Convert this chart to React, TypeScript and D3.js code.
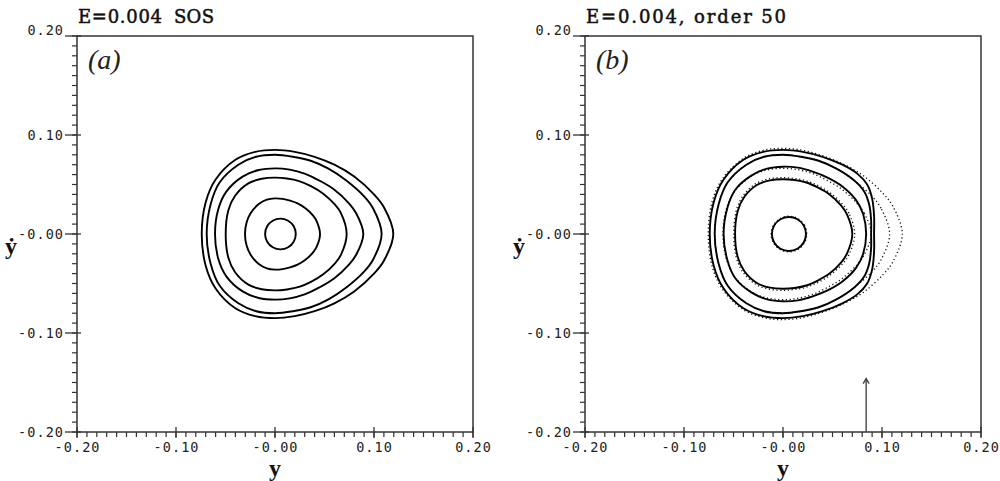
import React from 'react';
import * as d3 from 'd3';

const W = 1000;
const H = 481;

const axisDomain: [number, number] = [-0.2, 0.2];
const majorTicks = [-0.2, -0.1, 0, 0.1, 0.2];
const tickLabels = ['-0.20', '-0.10', '-0.00', '0.10', '0.20'];

type P = [number, number];

// Panel (a): SOS invariant curves  [y, ydot]
const sosC1: P[] = [[0.1195,0],[0.110,0.027],[0.100,0.040],[0.080,0.058],[0.060,0.070],[0.040,0.078],[0.020,0.083],[0,0.085],[-0.020,0.083],[-0.040,0.075],[-0.060,0.055],[-0.070,0.032],[-0.074,0],[-0.070,-0.032],[-0.060,-0.055],[-0.040,-0.075],[-0.020,-0.083],[0,-0.085],[0.020,-0.083],[0.040,-0.078],[0.060,-0.070],[0.080,-0.058],[0.100,-0.040],[0.110,-0.027]];
const sosC2: P[] = [[0.1077,0],[0.099,0.026],[0.090,0.038],[0.072,0.054],[0.054,0.066],[0.036,0.074],[0.018,0.078],[0,0.080],[-0.019,0.078],[-0.037,0.070],[-0.056,0.052],[-0.065,0.030],[-0.069,0],[-0.065,-0.030],[-0.056,-0.052],[-0.037,-0.070],[-0.019,-0.078],[0,-0.080],[0.018,-0.078],[0.036,-0.074],[0.054,-0.066],[0.072,-0.054],[0.090,-0.038],[0.099,-0.026]];
const sosC3: P[] = [[0.0892,0],[0.082,0.021],[0.0747,0.031],[0.0597,0.045],[0.0448,0.054],[0.0299,0.061],[0.0149,0.065],[0,0.0663],[-0.0164,0.0646],[-0.0327,0.058],[-0.049,0.043],[-0.0573,0.025],[-0.0606,0],[-0.0573,-0.025],[-0.049,-0.043],[-0.0327,-0.058],[-0.0164,-0.0646],[0,-0.0663],[0.0149,-0.065],[0.0299,-0.061],[0.0448,-0.054],[0.0597,-0.045],[0.0747,-0.031],[0.082,-0.021]];
const sosC4: P[] = [[0.0724,0],[0.0666,0.021],[0.0606,0.0296],[0.0484,0.041],[0.0363,0.0484],[0.0243,0.0535],[0.0121,0.056],[0,0.0569],[-0.0134,0.0558],[-0.0269,0.0512],[-0.0403,0.0387],[-0.0471,0.024],[-0.0498,0],[-0.0471,-0.024],[-0.0403,-0.0387],[-0.0269,-0.0512],[-0.0134,-0.0558],[0,-0.0569],[0.0121,-0.056],[0.0243,-0.0535],[0.0363,-0.0484],[0.0484,-0.041],[0.0606,-0.0296],[0.0666,-0.021]];
const sosC5: P[] = [[0.0455,0],[0.0419,0.0133],[0.0381,0.0191],[0.0304,0.0263],[0.0228,0.031],[0.0152,0.0338],[0.0076,0.0355],[0,0.036],[-0.0082,0.0347],[-0.0164,0.0303],[-0.0245,0.0211],[-0.0287,0.0117],[-0.0303,0],[-0.0287,-0.0117],[-0.0245,-0.0211],[-0.0164,-0.0303],[-0.0082,-0.0347],[0,-0.036],[0.0076,-0.0355],[0.0152,-0.0338],[0.0228,-0.031],[0.0304,-0.0263],[0.0381,-0.0191],[0.0419,-0.0133]];
const sosC6: P[] = [[0.021,0],[0.0189,0.0078],[0.0133,0.0134],[0.0055,0.0155],[-0.0023,0.0134],[-0.0079,0.0078],[-0.010,0],[-0.0079,-0.0078],[-0.0023,-0.0134],[0.0055,-0.0155],[0.0133,-0.0134],[0.0189,-0.0078]];

// Panel (b): SOS points (dotted) and order-50 curves (solid)
const sosOuterB: P[] = [[0.1205,0],[0.111,0.028],[0.101,0.041],[0.081,0.059],[0.060,0.071],[0.040,0.079],[0.020,0.0845],[0,0.0865],[-0.020,0.0845],[-0.040,0.0765],[-0.061,0.056],[-0.0715,0.033],[-0.0755,0],[-0.0715,-0.033],[-0.061,-0.056],[-0.040,-0.0765],[-0.020,-0.0845],[0,-0.0865],[0.020,-0.0845],[0.040,-0.079],[0.060,-0.071],[0.081,-0.059],[0.101,-0.041],[0.111,-0.028]];
const sosCircleB: P[] = [[0.024,0],[0.0216,0.009],[0.015,0.0156],[0.006,0.018],[-0.003,0.0156],[-0.0096,0.009],[-0.012,0],[-0.0096,-0.009],[-0.003,-0.0156],[0.006,-0.018],[0.015,-0.0156],[0.0216,-0.009]];
const ordB1: P[] = [[0.092,0],[0.092,0.018],[0.090,0.036],[0.085,0.050],[0.075,0.061],[0.060,0.070],[0.040,0.078],[0.020,0.083],[0,0.085],[-0.020,0.083],[-0.040,0.075],[-0.060,0.055],[-0.070,0.032],[-0.074,0],[-0.070,-0.032],[-0.060,-0.055],[-0.040,-0.075],[-0.020,-0.083],[0,-0.085],[0.020,-0.083],[0.040,-0.078],[0.060,-0.070],[0.075,-0.061],[0.085,-0.050],[0.090,-0.036],[0.092,-0.018]];
const ordB2: P[] = [[0.089,0],[0.089,0.014],[0.087,0.030],[0.082,0.043],[0.072,0.054],[0.054,0.066],[0.036,0.074],[0.018,0.078],[0,0.080],[-0.019,0.078],[-0.037,0.070],[-0.056,0.052],[-0.065,0.030],[-0.069,0],[-0.065,-0.030],[-0.056,-0.052],[-0.037,-0.070],[-0.019,-0.078],[0,-0.080],[0.018,-0.078],[0.036,-0.074],[0.054,-0.066],[0.072,-0.054],[0.082,-0.043],[0.087,-0.030],[0.089,-0.014]];
const ordB3: P[] = [[0.084,0],[0.081,0.020],[0.074,0.034],[0.060,0.048],[0.045,0.057],[0.030,0.063],[0.015,0.067],[0,0.068],[-0.016,0.066],[-0.032,0.059],[-0.048,0.045],[-0.056,0.027],[-0.060,0],[-0.056,-0.027],[-0.048,-0.045],[-0.032,-0.059],[-0.016,-0.066],[0,-0.068],[0.015,-0.067],[0.030,-0.063],[0.045,-0.057],[0.060,-0.048],[0.074,-0.034],[0.081,-0.020]];
const ordB4: P[] = [[0.070,0],[0.0645,0.020],[0.0588,0.0287],[0.047,0.040],[0.035,0.047],[0.0236,0.052],[0.0117,0.0545],[0,0.0553],[-0.013,0.0542],[-0.026,0.0497],[-0.039,0.0376],[-0.0457,0.0233],[-0.0484,0],[-0.0457,-0.0233],[-0.039,-0.0376],[-0.026,-0.0497],[-0.013,-0.0542],[0,-0.0553],[0.0117,-0.0545],[0.0236,-0.052],[0.035,-0.047],[0.047,-0.040],[0.0588,-0.0287],[0.0645,-0.020]];
const ordCircleB: P[] = [[0.0232,0],[0.0209,0.0086],[0.0146,0.0149],[0.006,0.0172],[-0.0026,0.0149],[-0.0089,0.0086],[-0.0112,0],[-0.0089,-0.0086],[-0.0026,-0.0149],[0.006,-0.0172],[0.0146,-0.0149],[0.0209,-0.0086]];

const panelASolid = [sosC1, sosC2, sosC3, sosC4, sosC5, sosC6];
const panelBDotted = [sosOuterB, sosC2, sosC3, sosC4, sosCircleB];
const panelBSolid = [ordB1, ordB2, ordB3, ordB4, ordCircleB];

const arrowY = 0.084;
const arrowTip = -0.146;

const titleA = ['E=0.004', 'SOS'];
const titleB = 'E=0.004, order 50';

const TOP = 36;
const BOTTOM = 432;
const PLOT_W = 396;

const monoFont = '"DejaVu Sans Mono", monospace';
const serifFont = '"Liberation Serif", "DejaVu Serif", serif';
const titleFont = '"DejaVu Serif", "Liberation Serif", serif';

function TickText(props: { x: number; y: number; anchor: 'middle' | 'end'; text: string }) {
  const len = props.text.length * 9.4 - 2;
  return (
    <text x={props.x} y={props.y} textAnchor={props.anchor} dominantBaseline="central"
      fontFamily={monoFont} fontSize={13.5} textLength={len} lengthAdjust="spacing" fill="#222">{props.text}</text>
  );
}

function Panel({ left, title, label, solid, dotted, arrow }: {
  left: number; title: React.ReactNode; label: string; solid: P[][]; dotted: P[][]; arrow?: boolean;
}) {
  const x = d3.scaleLinear().domain(axisDomain).range([left, left + PLOT_W]);
  const y = d3.scaleLinear().domain(axisDomain).range([BOTTOM, TOP]);
  const line = d3.line<P>().x(d => x(d[0])).y(d => y(d[1])).curve(d3.curveCatmullRomClosed.alpha(0.5));
  const minor = x.ticks(40);
  const axisColor = '#333';
  return (
    <g>
      {title}
      <text x={left + 11} y={69} fontFamily={serifFont} fontStyle="italic" fontSize={28} fill="#222">{label}</text>
      <rect x={left} y={TOP} width={PLOT_W} height={BOTTOM - TOP} fill="none" stroke={axisColor} strokeWidth={1.5} />
      {minor.map((t, i) => (
        <g key={'m' + i}>
          <line x1={x(t)} x2={x(t)} y1={BOTTOM} y2={BOTTOM + 5} stroke={axisColor} strokeWidth={1.2} />
          <line x1={left} x2={left - 5} y1={y(t)} y2={y(t)} stroke={axisColor} strokeWidth={1.2} />
        </g>
      ))}
      {majorTicks.map((t, i) => (
        <g key={'M' + i}>
          <line x1={x(t)} x2={x(t)} y1={BOTTOM - 5} y2={BOTTOM + 6} stroke={axisColor} strokeWidth={1.3} />
          <line x1={left + 4} x2={left - 12} y1={y(t)} y2={y(t)} stroke={axisColor} strokeWidth={1.3} />
          <TickText x={x(t)} y={BOTTOM + 15} anchor="middle" text={tickLabels[i]} />
          <TickText x={left - 14} y={y(t) + (i === majorTicks.length - 1 ? -6 : 0)} anchor="end" text={tickLabels[i]} />
        </g>
      ))}
      <text x={x(0)} y={476} textAnchor="middle" fontFamily={serifFont} fontWeight="bold" fontSize={24} fill="#111">y</text>
      <text x={left - 66} y={254} textAnchor="middle" fontFamily={serifFont} fontWeight="bold" fontSize={24} fill="#111">ẏ</text>
      {dotted.map((c, i) => (
        <path key={'d' + i} d={line(c) || ''} fill="none" stroke="#111" strokeWidth={1.3} strokeDasharray="1.2 2.6" />
      ))}
      {solid.map((c, i) => (
        <path key={'s' + i} d={line(c) || ''} fill="none" stroke="#000" strokeWidth={1.9} />
      ))}
      {arrow && (
        <g stroke="#444" strokeWidth={1.4} fill="none">
          <line x1={x(arrowY)} x2={x(arrowY)} y1={BOTTOM} y2={y(arrowTip)} />
          <polyline points={`${x(arrowY) - 3},${y(arrowTip) + 5} ${x(arrowY)},${y(arrowTip)} ${x(arrowY) + 3},${y(arrowTip) + 5}`} />
        </g>
      )}
    </g>
  );
}

const titleStyle = { fontFamily: titleFont, fontSize: 18, fill: '#111', stroke: '#111', strokeWidth: 0.5 };

export default function App() {
  const tA = (
    <g>
      <text x={78} y={23} {...titleStyle} textLength={84} lengthAdjust="spacing">{titleA[0]}</text>
      <text x={174} y={23} {...titleStyle} textLength={40} lengthAdjust="spacing">{titleA[1]}</text>
    </g>
  );
  const tB = (
    <text x={586} y={23} {...titleStyle} textLength={200} lengthAdjust="spacing">{titleB}</text>
  );
  return (
    <svg width={W} height={H} viewBox={`0 0 ${W} ${H}`}
      style={{ position: 'absolute', left: 0, top: 0, display: 'block', background: '#fff' }}>
      <rect x={0} y={0} width={W} height={H} fill="#fff" />
      <Panel left={77} title={tA} label="(a)" solid={panelASolid} dotted={[]} />
      <Panel left={585} title={tB} label="(b)" solid={panelBSolid} dotted={panelBDotted} arrow />
    </svg>
  );
}
